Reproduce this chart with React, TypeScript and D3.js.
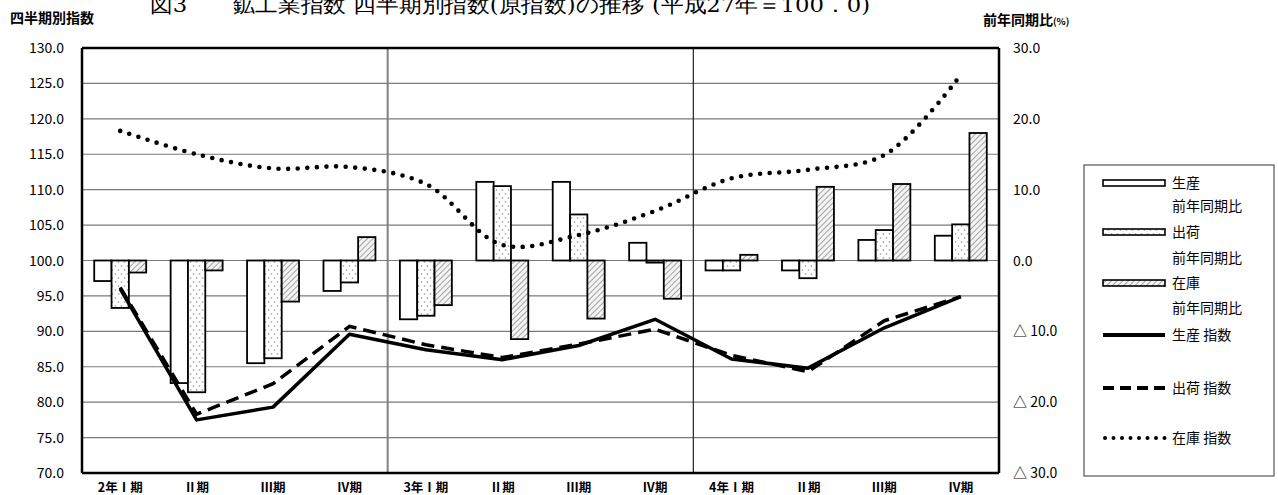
import React from "react";
import * as d3 from "d3";

const categories = ["2年Ⅰ期", "Ⅱ期", "Ⅲ期", "Ⅳ期", "3年Ⅰ期", "Ⅱ期", "Ⅲ期", "Ⅳ期", "4年Ⅰ期", "Ⅱ期", "Ⅲ期", "Ⅳ期"];
const prodYoY = [-2.9, -17.3, -14.5, -4.3, -8.3, 11.1, 11.1, 2.5, -1.4, -1.4, 2.9, 3.5];
const shipYoY = [-6.7, -18.6, -13.8, -3.1, -7.8, 10.5, 6.5, -0.3, -1.4, -2.5, 4.3, 5.1];
const invYoY = [-1.7, -1.4, -5.8, 3.3, -6.3, -11.1, -8.2, -5.4, 0.8, 10.4, 10.8, 18.0];
const prodIdx = [96.0, 77.5, 79.3, 89.6, 87.4, 86.0, 88.0, 91.7, 86.1, 84.8, 90.5, 94.9];
const shipIdx = [96.2, 78.3, 82.6, 90.7, 88.1, 86.3, 88.2, 90.3, 86.6, 84.3, 91.5, 94.9];
const invIdx = [118.3, 115.0, 113.0, 113.2, 110.8, 102.2, 103.6, 107.0, 111.6, 112.8, 114.9, 126.2];
const leftTicks = [70, 75, 80, 85, 90, 95, 100, 105, 110, 115, 120, 125, 130];
const rightTicks = [-30, -20, -10, 0, 10, 20, 30];
const yearBreaks = [4, 8];

const W = 1278, H = 495;
const L = 82, R = 999, T = 48, B = 473;
const FONT = "'Noto Sans CJK JP', 'Noto Sans', sans-serif";

export default function App() {
  const idx = categories.map((_, i) => i);
  const x0 = d3.scaleBand<number>().domain(idx).range([L, R]).paddingInner(0.32).paddingOuter(0.16);
  const step = (R - L) / categories.length;
  const x1 = d3.scaleBand<number>().domain([0, 1, 2]).range([0, x0.bandwidth()]);
  const cx = (i: number) => L + step * (i + 0.5);
  const yL = d3.scaleLinear().domain([70, 130]).range([B, T]);
  const yR = d3.scaleLinear().domain([-30, 30]).range([B, T]);

  const straight = d3.line<number>().x((_, i) => cx(i)).y((d) => yL(d));
  const smooth = d3.line<number>().x((_, i) => cx(i)).y((d) => yL(d)).curve(d3.curveCatmullRom.alpha(0.5));

  const series = [
    { data: prodYoY, fill: "#fff" },
    { data: shipYoY, fill: "url(#dots)" },
    { data: invYoY, fill: "url(#hatch)" },
  ];

  const fmtR = (v: number) => (v < 0 ? "△ " + Math.abs(v).toFixed(1) : v.toFixed(1));

  const lx0 = 1103, lx1 = 1165, ltx = 1172;

  return (
    <svg width={W} height={H} style={{ position: "absolute", left: 0, top: 0, background: "#fff" }} fontFamily={FONT}>
      <defs>
        <pattern id="dots" width="6" height="8" patternUnits="userSpaceOnUse">
          <rect width="6" height="8" fill="#fff" />
          <circle cx="1.5" cy="2" r="0.9" fill="#b4b4b4" />
          <circle cx="4.5" cy="6" r="0.9" fill="#b4b4b4" />
        </pattern>
        <pattern id="hatch" width="4" height="4" patternUnits="userSpaceOnUse" patternTransform="rotate(45)">
          <rect width="4" height="4" fill="#f4f4f4" />
          <line x1="0" y1="0" x2="0" y2="4" stroke="#9a9a9a" strokeWidth="1.8" />
        </pattern>
      </defs>
      <rect x={0} y={0} width={W} height={H} fill="#fff" />

      {/* Title (clipped at top, as in the reference) */}
      <text x={150} y={12} fontSize={21} fontFamily="'DejaVu Serif', serif" textLength={720} lengthAdjust="spacingAndGlyphs">
        図3　　鉱工業指数 四半期別指数(原指数)の推移 (平成27年＝100．0)
      </text>

      {/* Axis titles */}
      <text x={10} y={23} fontSize={14} fontWeight={700}>四半期別指数</text>
      <text x={983} y={25} fontSize={14} fontWeight={700}>前年同期比<tspan fontSize={9.5}>(%)</tspan></text>

      {/* Gridlines */}
      {leftTicks.map((t) => (
        <line key={"g" + t} x1={L} x2={R} y1={yL(t)} y2={yL(t)} stroke="#7a7a7a" strokeWidth={1.2} />
      ))}
      {yearBreaks.map((b, k) => (
        <line key={"v" + b} x1={L + step * b} x2={L + step * b} y1={T} y2={B} stroke={k === 0 ? "#808080" : "#222"} strokeWidth={k === 0 ? 2 : 1.2} />
      ))}

      {/* Bars */}
      {series.map((s, si) =>
        s.data.map((v, i) => {
          const x = (x0(i) as number) + (x1(si) as number);
          const y0 = yR(0), y1 = yR(v);
          return (
            <rect key={si + "-" + i} x={x} y={Math.min(y0, y1)} width={x1.bandwidth()} height={Math.max(Math.abs(y1 - y0), 0.5)}
              fill={s.fill} stroke="#000" strokeWidth={1.8} />
          );
        })
      )}

      {/* Lines */}
      <path d={smooth(invIdx) || ""} fill="none" stroke="#000" strokeWidth={4.6} strokeLinecap="round" strokeDasharray="0 9.6" />
      <path d={straight(shipIdx) || ""} fill="none" stroke="#000" strokeWidth={3.5} strokeDasharray="13 7" />
      <path d={straight(prodIdx) || ""} fill="none" stroke="#000" strokeWidth={3.5} strokeLinejoin="round" />

      {/* Plot frame */}
      <line x1={L} x2={R} y1={T} y2={T} stroke="#000" strokeWidth={2.5} />
      <line x1={L} x2={R} y1={B} y2={B} stroke="#000" strokeWidth={2.5} />
      <line x1={L} x2={L} y1={T} y2={B} stroke="#000" strokeWidth={2.5} />
      <line x1={R} x2={R} y1={T} y2={B} stroke="#000" strokeWidth={2.5} />

      {/* Left axis labels */}
      {leftTicks.map((t) => (
        <text key={"l" + t} x={64} y={yL(t) + 5} fontSize={14} textAnchor="end">{t.toFixed(1)}</text>
      ))}
      {/* Right axis labels */}
      {rightTicks.map((t) => (
        <text key={"r" + t} x={1013} y={yR(t) + 5} fontSize={14}>{fmtR(t)}</text>
      ))}
      {/* Category labels */}
      {categories.map((c, i) => (
        <text key={"c" + i} x={cx(i)} y={492} fontSize={12.5} fontWeight={700} textAnchor="middle">{c}</text>
      ))}

      {/* Legend */}
      <rect x={1084} y={165} width={190} height={311} fill="#fff" stroke="#555" strokeWidth={1.2} />
      <rect x={lx0} y={180} width={lx1 - lx0} height={6} fill="#fff" stroke="#000" strokeWidth={1.6} />
      <text x={ltx} y={188} fontSize={14}>生産</text>
      <text x={ltx} y={211} fontSize={14}>前年同期比</text>
      <rect x={lx0} y={229} width={lx1 - lx0} height={6} fill="url(#dots)" stroke="#000" strokeWidth={1.6} />
      <text x={ltx} y={237} fontSize={14}>出荷</text>
      <text x={ltx} y={263} fontSize={14}>前年同期比</text>
      <rect x={lx0} y={280} width={lx1 - lx0} height={6} fill="url(#hatch)" stroke="#000" strokeWidth={1.6} />
      <text x={ltx} y={288} fontSize={14}>在庫</text>
      <text x={ltx} y={313} fontSize={14}>前年同期比</text>
      <line x1={lx0} x2={lx1} y1={335} y2={335} stroke="#000" strokeWidth={4} />
      <text x={ltx} y={340} fontSize={14}>生産 指数</text>
      <line x1={lx0} x2={lx1} y1={388} y2={388} stroke="#000" strokeWidth={4} strokeDasharray="11 6" />
      <text x={ltx} y={393} fontSize={14}>出荷 指数</text>
      <line x1={lx0 + 2} x2={lx1} y1={438} y2={438} stroke="#000" strokeWidth={4} strokeLinecap="round" strokeDasharray="0 8.5" />
      <text x={ltx} y={443} fontSize={14}>在庫 指数</text>
    </svg>
  );
}
